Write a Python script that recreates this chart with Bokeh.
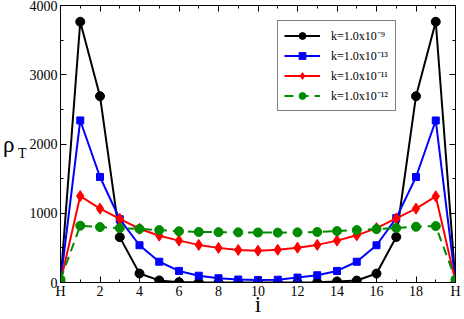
from bokeh.plotting import figure
from bokeh.models import FixedTicker, LinearAxis, Range1d, Legend, LegendItem
from bokeh.embed import file_html
from bokeh.resources import INLINE

# ---- data ----
i_vals = list(range(21))
rho_k9 = [0, 3765, 2690, 655, 130, 30, 5, 2, 0, 0, 0, 0, 0, 2, 14, 28, 129, 657, 2690, 3765, 0]
rho_k13 = [5, 2340, 1524, 914, 538, 300, 167, 98, 62, 43, 36, 40, 71, 105, 167, 300, 538, 929, 1524, 2340, 5]
rho_k11 = [12, 1248, 1067, 919, 776, 676, 605, 543, 500, 470, 460, 472, 502, 543, 605, 681, 785, 925, 1067, 1245, 12]
rho_k12 = [45, 820, 800, 786, 774, 757, 740, 730, 727, 724, 722, 720, 724, 729, 743, 757, 771, 786, 805, 815, 45]

labels = ["k=1.0x10\u207b\u2079", "k=1.0x10\u207b\u00b9\u00b3",
          "k=1.0x10\u207b\u00b9\u00b9", "k=1.0x10\u207b\u00b9\u00b2"]
x_major = [0, 2, 4, 6, 8, 10, 12, 14, 16, 18, 20]
x_minor = list(range(21))
x_tick_text = {0: "H", 20: "H"}
y_major = [0, 1000, 2000, 3000, 4000]
y_minor = [0, 500, 1000, 1500, 2000, 2500, 3000, 3500, 4000]
x_title = "i"
y_title = "\u03c1"
y_title_sub = " \nT"

FONT = "Liberation Serif"

p = figure(width=464, height=319, output_backend="svg", toolbar_location=None,
           x_range=Range1d(0, 20), y_range=Range1d(0, 4000),
           min_border_left=56, min_border_right=9, min_border_top=5, min_border_bottom=0)
p.xgrid.visible = False
p.ygrid.visible = False
p.outline_line_color = "black"
p.outline_line_width = 1
p.background_fill_color = "white"
p.border_fill_color = "white"

xt = FixedTicker(ticks=x_major, minor_ticks=x_minor)
yt = FixedTicker(ticks=y_major, minor_ticks=y_minor)


def style_axis(ax, show_labels=True):
    ax.axis_line_color = "black"
    ax.major_tick_line_color = "black"
    ax.minor_tick_line_color = "black"
    ax.major_tick_in = 6
    ax.major_tick_out = 0
    ax.minor_tick_in = 3
    ax.minor_tick_out = 0
    ax.major_label_text_font = FONT
    if show_labels:
        ax.major_label_text_color = "black"
        ax.major_label_text_font_size = "14px"
        ax.major_label_standoff = 3
    else:
        ax.major_label_text_color = None
        ax.major_label_text_font_size = "0px"
        ax.major_label_standoff = 0


p.xaxis.ticker = xt
p.yaxis.ticker = yt
p.xaxis.major_label_overrides = x_tick_text
style_axis(p.xaxis[0])
style_axis(p.yaxis[0])
p.xaxis.major_label_standoff = 1
p.yaxis.major_label_standoff = 3

# x title
p.xaxis.axis_label = x_title
p.xaxis.axis_label_text_font = FONT
p.xaxis.axis_label_text_font_style = "normal"
p.xaxis.axis_label_text_font_size = "23px"
p.xaxis.axis_label_text_color = "black"
p.xaxis.axis_label_standoff = -10

# y title: subscript "T" on the inner axis, "rho" on an outer blank axis
p.yaxis.axis_label = y_title_sub
p.yaxis.axis_label_orientation = "horizontal"
p.yaxis.axis_label_text_font = FONT
p.yaxis.axis_label_text_font_style = "normal"
p.yaxis.axis_label_text_font_size = "14px"
p.yaxis.axis_label_text_color = "black"
p.yaxis.axis_label_standoff = 0

rho_ax = LinearAxis(ticker=FixedTicker(ticks=[]), axis_label=y_title)
rho_ax.axis_line_color = None
rho_ax.major_tick_line_color = None
rho_ax.minor_tick_line_color = None
rho_ax.major_label_text_font_size = "0px"
rho_ax.major_label_standoff = 0
rho_ax.axis_label_orientation = "horizontal"
rho_ax.axis_label_text_font = FONT
rho_ax.axis_label_text_font_style = "normal"
rho_ax.axis_label_text_font_size = "23px"
rho_ax.axis_label_text_color = "black"
rho_ax.axis_label_standoff = 0
p.add_layout(rho_ax, "left")

top_ax = LinearAxis(ticker=xt, axis_label=None)
style_axis(top_ax, False)
p.add_layout(top_ax, "above")
right_ax = LinearAxis(ticker=yt, axis_label=None)
style_axis(right_ax, False)
p.add_layout(right_ax, "right")

series = [
    (rho_k9, "black", "circle", 9, None),
    (rho_k13, "blue", "square", 7, None),
    (rho_k11, "red", "diamond", 11, None),
    (rho_k12, "#008b00", "circle", 9, "9 6"),
]
items = []
for (vals, col, mk, sz, dash), lab in zip(series, labels):
    if dash:
        ln = p.line(i_vals, vals, line_color=col, line_width=2, line_dash=dash)
    else:
        ln = p.line(i_vals, vals, line_color=col, line_width=2)
    sc = p.scatter(i_vals, vals, marker=mk, size=sz, fill_color=col, line_color=col)
    items.append(LegendItem(label=lab, renderers=[ln, sc]))

legend = Legend(items=items, location=(217, 171))
legend.label_text_font = FONT
legend.label_text_font_size = "12px"
legend.label_text_color = "black"
legend.border_line_color = "black"
legend.border_line_width = 1
legend.background_fill_color = "white"
legend.background_fill_alpha = 1
legend.glyph_width = 36
legend.glyph_height = 17
legend.spacing = 3
legend.padding = 6
legend.margin = 0
legend.label_standoff = 11
legend.label_width = 58
p.add_layout(legend)

open("out.html", "w").write(file_html(p, INLINE))
